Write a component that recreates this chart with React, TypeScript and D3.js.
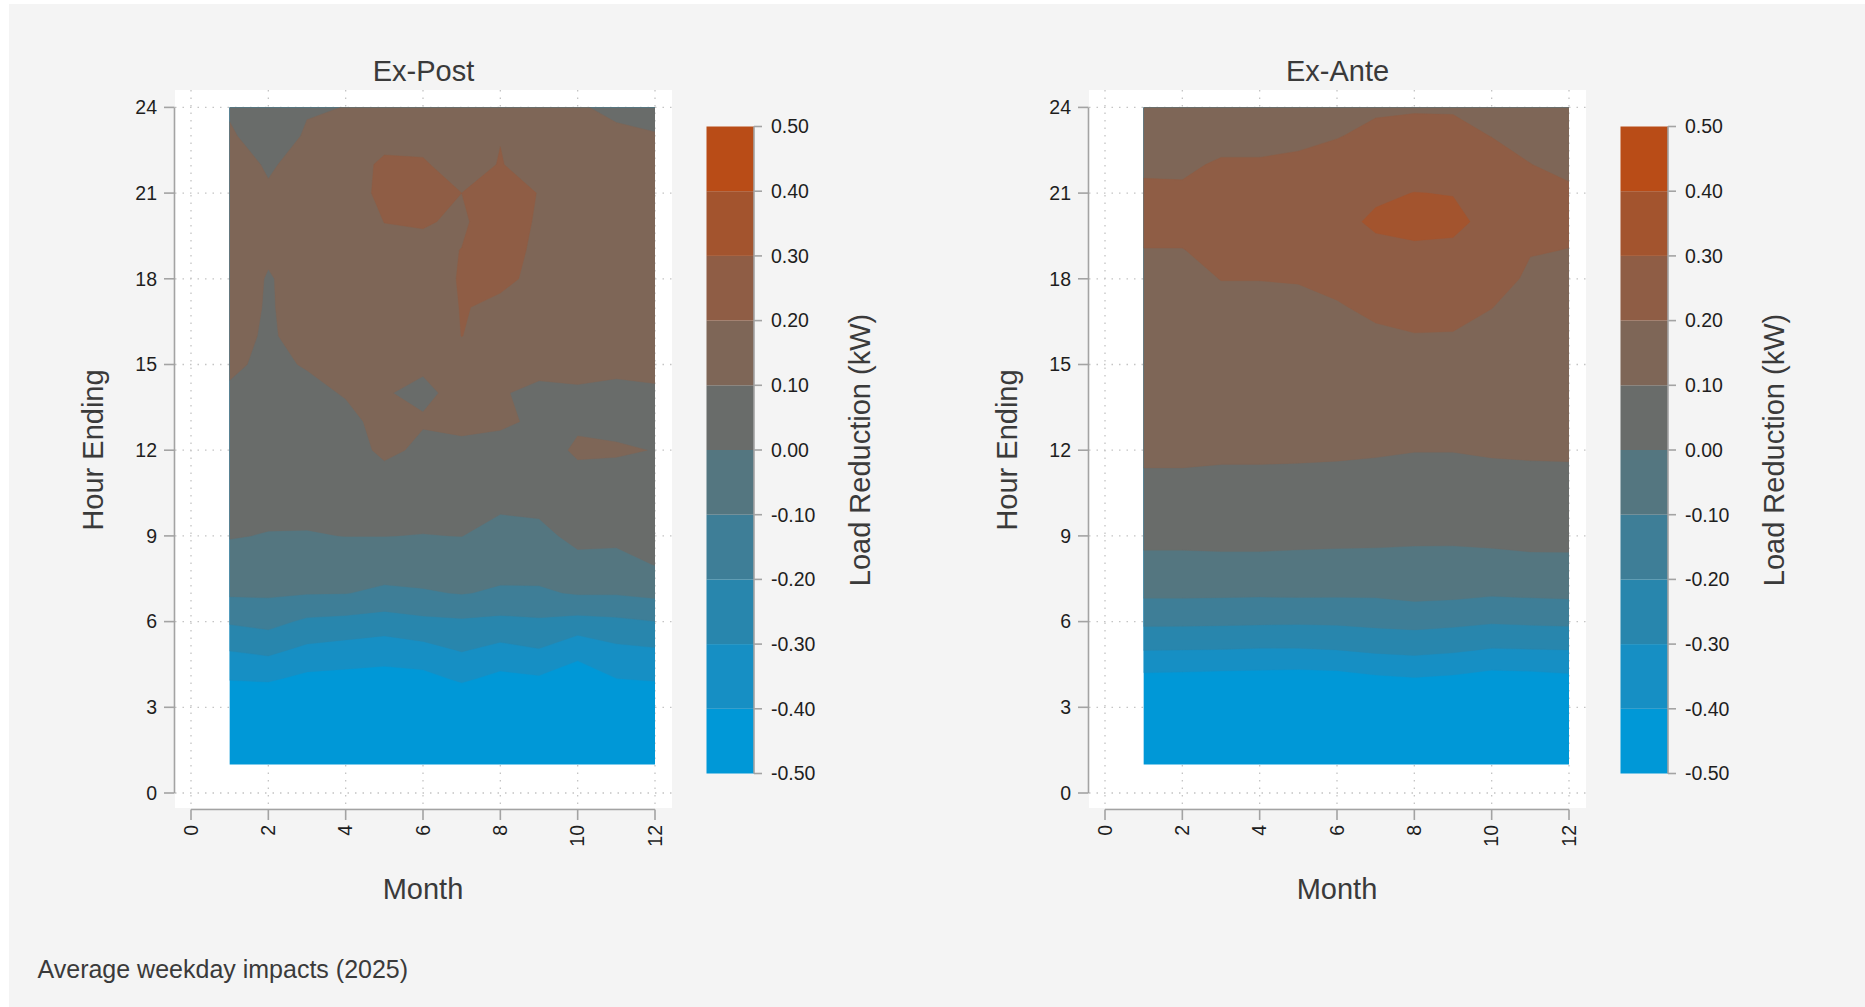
import React, { useMemo } from "react";
import * as d3 from "d3";

// ---------- categories / ticks ----------
const months = [1, 2, 3, 4, 5, 6, 7, 8, 9, 10, 11, 12];
const hours = [1, 2, 3, 4, 5, 6, 7, 8, 9, 10, 11, 12, 13, 14, 15, 16, 17, 18, 19, 20, 21, 22, 23, 24];
const xTicks = [0, 2, 4, 6, 8, 10, 12];
const yTicks = [0, 3, 6, 9, 12, 15, 18, 21, 24];
const legendTicks = [0.5, 0.4, 0.3, 0.2, 0.1, 0, -0.1, -0.2, -0.3, -0.4, -0.5];
const bandBreaks = [-0.5, -0.4, -0.3, -0.2, -0.1, 0, 0.1, 0.2, 0.3, 0.4, 0.5];
const contourThresholds = [-1, -0.4, -0.3, -0.2, -0.1, 0, 0.1, 0.2, 0.3, 0.4];
const bandColors = ["#0098d7", "#168fc4", "#2886ad", "#3e7e97", "#547680", "#696c6a", "#7e6657", "#8f5d45", "#a3542e", "#b94c17"];

// ---------- Ex-Post: load reduction (kW) by hour ending 1..24, one array per month ----------
const exPostJan = [-0.56, -0.54, -0.5, -0.394, -0.297, -0.189, -0.087, -0.037, 0.005, 0.022, 0.04, 0.057, 0.075, 0.092, 0.11, 0.13, 0.14, 0.14, 0.15, 0.15, 0.15, 0.14, 0.11, 0.09];
const exPostFeb = [-0.57, -0.55, -0.5, -0.387, -0.278, -0.169, -0.086, -0.045, -0.004, 0.02, 0.04, 0.06, 0.075, 0.085, 0.088, 0.088, 0.092, 0.095, 0.11, 0.12, 0.11, 0.09, 0.06, 0.05];
const exPostMar = [-0.58, -0.56, -0.52, -0.424, -0.323, -0.217, -0.095, -0.05, -0.004, 0.016, 0.033, 0.05, 0.067, 0.085, 0.104, 0.134, 0.135, 0.127, 0.14, 0.15, 0.15, 0.13, 0.108, 0.094];
const exPostApr = [-0.58, -0.56, -0.52, -0.43, -0.34, -0.228, -0.097, -0.047, 0.001, 0.023, 0.044, 0.065, 0.085, 0.104, 0.12, 0.14, 0.15, 0.15, 0.15, 0.15, 0.15, 0.16, 0.13, 0.101];
const exPostMay = [-0.59, -0.57, -0.52, -0.435, -0.355, -0.245, -0.119, -0.053, 0.001, 0.037, 0.073, 0.116, 0.118, 0.103, 0.13, 0.15, 0.16, 0.17, 0.18, 0.201, 0.225, 0.215, 0.17, 0.14];
const exPostJun = [-0.58, -0.56, -0.51, -0.43, -0.334, -0.222, -0.109, -0.053, -0.002, 0.026, 0.054, 0.086, 0.105, 0.09, 0.107, 0.14, 0.16, 0.17, 0.185, 0.205, 0.225, 0.21, 0.17, 0.14];
const exPostJul = [-0.55, -0.53, -0.49, -0.385, -0.294, -0.213, -0.095, -0.047, 0.001, 0.029, 0.058, 0.086, 0.114, 0.115, 0.16, 0.201, 0.203, 0.205, 0.201, 0.191, 0.2, 0.157, 0.14, 0.12];
const exPostAug = [-0.58, -0.56, -0.52, -0.426, -0.329, -0.224, -0.113, -0.066, -0.028, 0.009, 0.043, 0.077, 0.11, 0.105, 0.14, 0.17, 0.19, 0.21, 0.23, 0.235, 0.24, 0.205, 0.197, 0.16];
const exPostSep = [-0.57, -0.55, -0.51, -0.412, -0.305, -0.214, -0.112, -0.065, -0.03, 0.02, 0.06, 0.085, 0.09, 0.085, 0.12, 0.15, 0.17, 0.189, 0.185, 0.192, 0.197, 0.155, 0.14, 0.13];
const exPostOct = [-0.59, -0.57, -0.53, -0.442, -0.375, -0.231, -0.092, -0.033, 0.03, 0.06, 0.09, 0.105, 0.095, 0.097, 0.107, 0.12, 0.13, 0.14, 0.14, 0.14, 0.14, 0.14, 0.13, 0.12];
const exPostNov = [-0.57, -0.55, -0.5, -0.401, -0.323, -0.219, -0.092, -0.035, 0.025, 0.06, 0.088, 0.104, 0.09, 0.095, 0.105, 0.12, 0.13, 0.13, 0.13, 0.14, 0.14, 0.14, 0.14, 0.055];
const exPostDec = [-0.56, -0.54, -0.5, -0.39, -0.31, -0.201, -0.076, 0.003, 0.03, 0.055, 0.08, 0.099, 0.09, 0.095, 0.11, 0.12, 0.125, 0.13, 0.13, 0.13, 0.13, 0.13, 0.105, 0.07];

// ---------- Ex-Ante ----------
const exAnteJan = [-0.58, -0.55, -0.5, -0.427, -0.299, -0.18, -0.082, -0.021, 0.021, 0.054, 0.092, 0.113, 0.124, 0.136, 0.148, 0.16, 0.173, 0.185, 0.199, 0.212, 0.215, 0.186, 0.175, 0.165];
const exAnteFeb = [-0.58, -0.55, -0.5, -0.43, -0.301, -0.18, -0.082, -0.021, 0.021, 0.054, 0.092, 0.113, 0.124, 0.136, 0.148, 0.16, 0.173, 0.185, 0.199, 0.212, 0.213, 0.185, 0.175, 0.165];
const exAnteMar = [-0.58, -0.55, -0.51, -0.436, -0.303, -0.183, -0.084, -0.019, 0.023, 0.055, 0.09, 0.11, 0.125, 0.14, 0.155, 0.17, 0.186, 0.201, 0.21, 0.22, 0.22, 0.21, 0.17, 0.16];
const exAnteApr = [-0.58, -0.55, -0.51, -0.439, -0.308, -0.186, -0.086, -0.019, 0.023, 0.056, 0.09, 0.11, 0.125, 0.14, 0.156, 0.171, 0.186, 0.201, 0.21, 0.22, 0.22, 0.21, 0.17, 0.16];
const exAnteMay = [-0.58, -0.55, -0.51, -0.444, -0.308, -0.188, -0.084, -0.022, 0.021, 0.054, 0.088, 0.11, 0.125, 0.14, 0.156, 0.171, 0.187, 0.203, 0.215, 0.225, 0.23, 0.215, 0.183, 0.17];
const exAnteJun = [-0.58, -0.55, -0.51, -0.439, -0.301, -0.185, -0.085, -0.024, 0.019, 0.052, 0.084, 0.11, 0.128, 0.145, 0.162, 0.18, 0.195, 0.215, 0.245, 0.282, 0.27, 0.235, 0.196, 0.185];
const exAnteJul = [-0.57, -0.54, -0.5, -0.417, -0.285, -0.176, -0.085, -0.025, 0.018, 0.049, 0.08, 0.107, 0.128, 0.149, 0.17, 0.19, 0.212, 0.24, 0.285, 0.31, 0.29, 0.26, 0.22, 0.188];
const exAnteAug = [-0.56, -0.53, -0.49, -0.406, -0.276, -0.169, -0.071, -0.027, 0.015, 0.044, 0.074, 0.102, 0.126, 0.15, 0.174, 0.197, 0.225, 0.255, 0.29, 0.32, 0.301, 0.27, 0.24, 0.189];
const exAnteSep = [-0.57, -0.54, -0.5, -0.417, -0.288, -0.178, -0.076, -0.028, 0.015, 0.044, 0.074, 0.102, 0.126, 0.15, 0.173, 0.196, 0.222, 0.25, 0.288, 0.315, 0.298, 0.265, 0.23, 0.19];
const exAnteOct = [-0.58, -0.55, -0.51, -0.439, -0.308, -0.191, -0.088, -0.025, 0.019, 0.05, 0.081, 0.107, 0.126, 0.145, 0.164, 0.182, 0.201, 0.225, 0.25, 0.281, 0.265, 0.24, 0.198, 0.185];
const exAnteNov = [-0.58, -0.55, -0.51, -0.434, -0.304, -0.185, -0.083, -0.018, 0.023, 0.055, 0.086, 0.108, 0.122, 0.136, 0.149, 0.163, 0.177, 0.19, 0.203, 0.215, 0.22, 0.201, 0.18, 0.17];
const exAnteDec = [-0.58, -0.55, -0.5, -0.422, -0.301, -0.18, -0.079, -0.017, 0.023, 0.056, 0.088, 0.108, 0.121, 0.134, 0.147, 0.16, 0.173, 0.186, 0.199, 0.21, 0.212, 0.182, 0.17, 0.165];

const exPostColumns = [exPostJan, exPostFeb, exPostMar, exPostApr, exPostMay, exPostJun, exPostJul, exPostAug, exPostSep, exPostOct, exPostNov, exPostDec];
const exAnteColumns = [exAnteJan, exAnteFeb, exAnteMar, exAnteApr, exAnteMay, exAnteJun, exAnteJul, exAnteAug, exAnteSep, exAnteOct, exAnteNov, exAnteDec];

const FONT = "'Liberation Sans', Arial, Helvetica, sans-serif";
const AXIS = "#a3a3a3";
const GRID = "#c4c4c4";
const TXT = "#1e1e1e";
const TITLE = "#3a3a3a";

function Panel({ title, columns, dx, id }: { title: string; columns: number[][]; dx: number; id: string }) {
  const x = d3.scaleLinear().domain([0, 12]).range([191 + dx, 655 + dx]);
  const y = d3.scaleLinear().domain([0, 24]).range([793, 107.4]);
  const leg = d3.scaleLinear().domain([-0.5, 0.5]).range([773.5, 126.5]);
  const fmt = (v: number) => d3.format(".2f")(v).replace("\u2212", "-");

  const paths = useMemo(() => {
    const vals: number[] = [];
    hours.forEach((_, h) => months.forEach((_, m) => vals.push(columns[m][h])));
    const cs = d3.contours().size([months.length, hours.length]).thresholds(contourThresholds)(vals);
    const proj = d3.geoTransform({
      point(px: number, py: number) {
        // grid value i sits at coordinate i + 0.5 -> month/hour = i + 1
        (this as any).stream.point(x(px + 0.5), y(py + 0.5));
      },
    });
    const gp = d3.geoPath(proj as any);
    return cs.map((c, i) => ({ d: gp(c as any) || "", fill: bandColors[i] }));
  }, [columns, dx]);

  const plotL = 175 + dx, plotR = 672 + dx, plotT = 90, plotB = 808;
  const barL = 706.5 + dx, barR = 754 + dx;

  return (
    <g fontFamily={FONT}>
      <rect x={plotL} y={plotT} width={plotR - plotL} height={plotB - plotT} fill="#ffffff" />
      {yTicks.map((t) => (
        <line key={"gy" + t} x1={plotL} x2={plotR} y1={y(t)} y2={y(t)} stroke={GRID} strokeWidth={1.3} strokeDasharray="1.5 6" />
      ))}
      {xTicks.map((t) => (
        <line key={"gx" + t} x1={x(t)} x2={x(t)} y1={plotT} y2={plotB} stroke={GRID} strokeWidth={1.3} strokeDasharray="1.5 6" />
      ))}
      <clipPath id={id}>
        <rect x={x(1)} y={y(24)} width={x(12) - x(1)} height={y(1) - y(24)} />
      </clipPath>
      <g clipPath={`url(#${id})`}>
        {paths.map((p, i) => (
          <path key={i} d={p.d} fill={p.fill} stroke={p.fill} strokeWidth={0.4} />
        ))}
      </g>

      {/* y axis */}
      <line x1={174.5 + dx} x2={174.5 + dx} y1={y(24)} y2={y(0)} stroke={AXIS} strokeWidth={1.6} />
      {yTicks.map((t) => (
        <g key={"ty" + t}>
          <line x1={164 + dx} x2={174.5 + dx} y1={y(t)} y2={y(t)} stroke={AXIS} strokeWidth={1.6} />
          <text x={157 + dx} y={y(t)} dy="0.35em" textAnchor="end" fontSize={19.5} fill={TXT}>{t}</text>
        </g>
      ))}
      {/* x axis */}
      <line x1={x(0)} x2={x(12)} y1={809.5} y2={809.5} stroke={AXIS} strokeWidth={1.6} />
      {xTicks.map((t) => (
        <g key={"tx" + t}>
          <line x1={x(t)} x2={x(t)} y1={809.5} y2={820} stroke={AXIS} strokeWidth={1.6} />
          <text transform={`translate(${x(t)},825) rotate(-90)`} textAnchor="end" dy="0.35em" fontSize={19.5} fill={TXT}>{t}</text>
        </g>
      ))}

      <text x={423.5 + dx} y={81} textAnchor="middle" fontSize={29} fill={TITLE}>{title}</text>
      <text x={423 + dx} y={899} textAnchor="middle" fontSize={29} fill={TITLE}>Month</text>
      <text transform={`translate(${103 + dx},450) rotate(-90)`} textAnchor="middle" fontSize={29} fill={TITLE}>Hour Ending</text>

      {/* colour bar */}
      {bandColors.map((c, i) => (
        <rect key={"cb" + i} x={barL} y={leg(bandBreaks[i + 1])} width={barR - barL} height={leg(bandBreaks[i]) - leg(bandBreaks[i + 1])} fill={c} />
      ))}
      <line x1={barR} x2={barR} y1={leg(0.5)} y2={leg(-0.5)} stroke={AXIS} strokeWidth={1.6} />
      {legendTicks.map((t) => (
        <g key={"lt" + t}>
          <line x1={barR} x2={barR + 8} y1={leg(t)} y2={leg(t)} stroke={AXIS} strokeWidth={1.6} />
          <text x={771 + dx} y={leg(t)} dy="0.35em" fontSize={19.5} fill={TXT}>{fmt(t)}</text>
        </g>
      ))}
      <text transform={`translate(${870 + dx},450) rotate(-90)`} textAnchor="middle" fontSize={29} fill={TITLE}>Load Reduction (kW)</text>
    </g>
  );
}

export default function App() {
  return (
    <svg width={1865} height={1007} style={{ position: "fixed", left: 0, top: 0 }}>
      <rect x={0} y={0} width={1865} height={1007} fill="#ffffff" />
      <rect x={9} y={4} width={1856} height={1003} fill="#f4f4f4" />
      <Panel title="Ex-Post" columns={exPostColumns} dx={0} id="clipPost" />
      <Panel title="Ex-Ante" columns={exAnteColumns} dx={914} id="clipAnte" />
      <text x={37.5} y={978} fontSize={25} fill={TITLE} fontFamily={FONT}>Average weekday impacts (2025)</text>
    </svg>
  );
}
